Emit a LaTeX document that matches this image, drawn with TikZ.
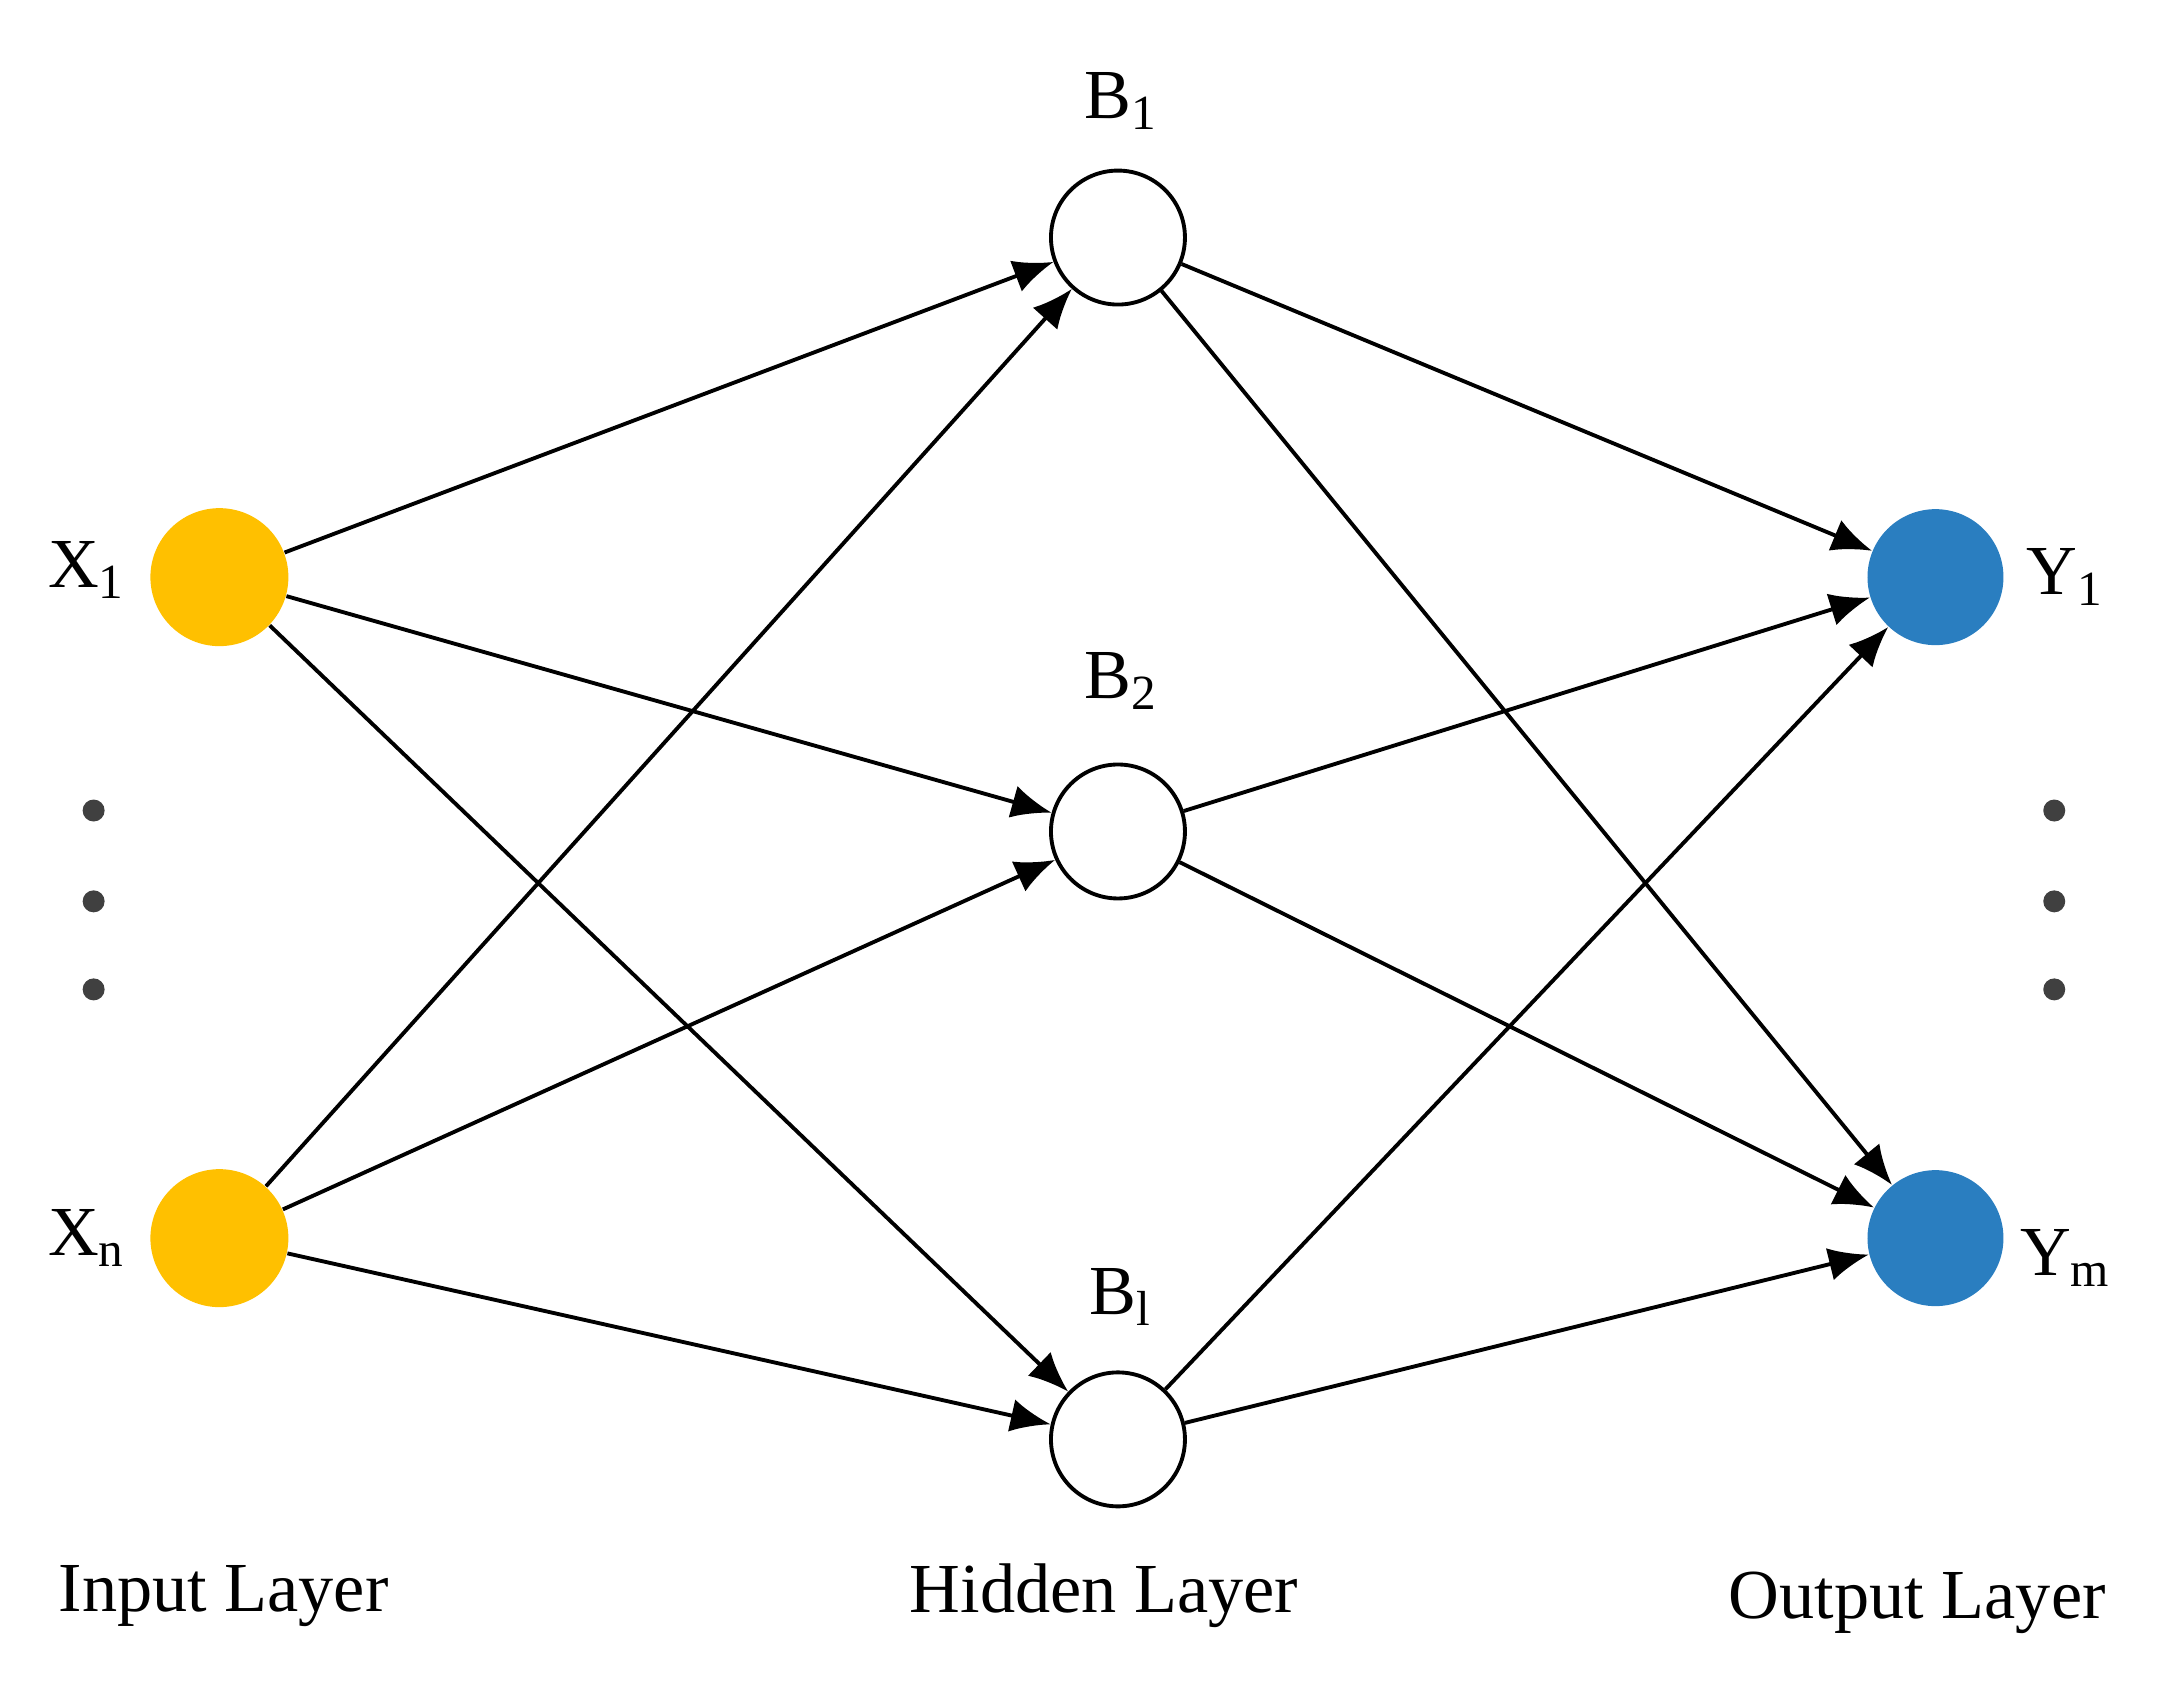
\documentclass[tikz,border=0pt]{standalone}
\usepackage{fontspec}
\setmainfont{Liberation Serif}
\usetikzlibrary{arrows.meta,positioning}
\definecolor{inyellow}{HTML}{FFC000}
\definecolor{outblue}{HTML}{2A7EC0}
\begin{document}
\begin{tikzpicture}[
  x=0.013974cm, y=-0.013974cm,
  font=\fontsize{20}{24}\selectfont,
  inp/.style={circle, fill=inyellow, minimum size=1.38cm, inner sep=0pt},
  hid/.style={circle, draw, line width=1.1pt, fill=white, minimum size=1.34cm, inner sep=0pt},
  outp/.style={circle, fill=outblue, minimum size=1.36cm, inner sep=0pt},
  arrow/.style={-{Latex[length=4mm,width=3.3mm]}, line width=1.1pt},
  dot/.style={circle, fill=black!75, minimum size=2.2mm, inner sep=0pt},
]
  \useasboundingbox (0,0) rectangle (1560,1204);
  % Nodes
  \node[inp] (x1) at (157,413) {};
  \node[inp] (xn) at (157,886) {};
  \node[hid] (b1) at (800,170) {};
  \node[hid] (b2) at (800,595) {};
  \node[hid] (bl) at (800,1030) {};
  \node[outp] (y1) at (1385,413) {};
  \node[outp] (ym) at (1385,886) {};

  % Labels
  \node (lx1) at (62,408) {X\textsubscript{1}};
  \node (lxn) at (62,886) {X\textsubscript{n}};
  \node (lb1) at (802,72) {B\textsubscript{1}};
  \node (lb2) at (802,487) {B\textsubscript{2}};
  \node (lbl) at (802,928) {B\textsubscript{l}};
  \node (ly1) at (1478,413) {Y\textsubscript{1}};
  \node (lym) at (1478,900) {Y\textsubscript{m}};
  \node (lin)  at (160,1142) {Input Layer};
  \node (lhid) at (790,1142) {Hidden Layer};
  \node (lout) at (1372,1147) {Output Layer};

  % Dots
  \foreach \yy [count=\i] in {580,645,708} {
    \node[dot] (dl\i) at (67,\yy) {};
    \node[dot] (dr\i) at (1470,\yy) {};
  }

  % Connections
  \foreach \a in {x1,xn}
    \foreach \b in {b1,b2,bl}
      \draw[arrow] (\a) -- (\b);
  \foreach \a in {b1,b2,bl}
    \foreach \b in {y1,ym}
      \draw[arrow] (\a) -- (\b);
\end{tikzpicture}
\end{document}
